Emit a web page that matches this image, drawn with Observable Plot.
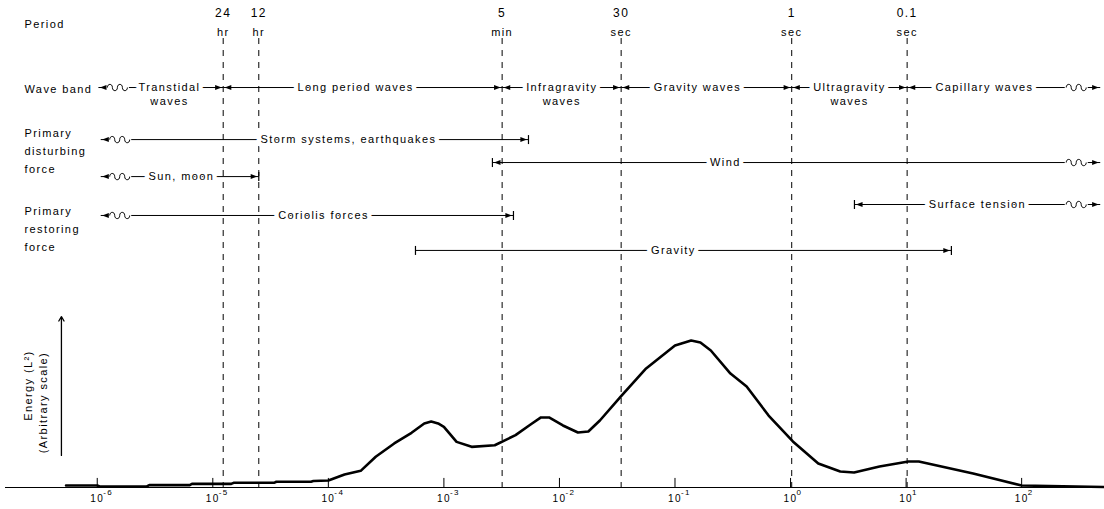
<!DOCTYPE html>
<html><head><meta charset="utf-8">
<script src="https://cdn.jsdelivr.net/npm/d3@7"></script>
<script src="https://cdn.jsdelivr.net/npm/@observablehq/plot@0.6"></script>
<style>
html,body{margin:0;padding:0;background:#fff;}
#chart svg text{letter-spacing:1.4px;}
#chart svg g[aria-label="tick-base"] text,
#chart svg g[aria-label="tick-exp"] text,
#chart svg g[aria-label="period-num"] text{letter-spacing:0;}
</style></head><body><div id="chart"></div>
<script>
// ---------- DATA ----------
// Energy spectrum: log10(frequency, Hz) and energy (arbitrary units)
const curveLogFreq = [-6.27,-6.0,-5.98,-5.57,-5.55,-5.2,-5.18,-4.84,-4.82,-4.47,-4.45,-4.15,-4.13,-4.0,-3.86,-3.72,-3.59,-3.43,-3.28,-3.17,-3.11,-3.05,-3.0,-2.89,-2.76,-2.56,-2.38,-2.25,-2.16,-2.09,-1.97,-1.84,-1.75,-1.65,-1.47,-1.25,-1.0,-0.86,-0.78,-0.69,-0.52,-0.38,-0.19,0.02,0.24,0.43,0.55,0.77,1.02,1.11,1.58,2.0,2.72];
const curveEnergy  = [1.4,1.4,0.7,0.7,1.6,1.6,2.5,2.5,3.2,3.2,3.9,3.9,4.4,4.8,8.9,11.4,21.0,30.1,37.4,43.8,45.1,43.8,41.5,31.2,27.8,28.9,35.8,43.1,47.9,47.9,42.4,37.6,38.3,45.8,62.2,81.4,97.1,100.5,99.1,93.7,77.9,69.1,49.2,31.5,16.4,10.9,10.3,14.4,17.8,17.8,9.6,1.4,0.3];

// Period markers (dashed lines), log10 frequency
const periodNumbers = ["24","12","5","30","1","0.1"];
const periodUnits   = ["hr","hr","min","sec","sec","sec"];
const periodLogFreq = [-4.91,-4.602,-2.496,-1.466,0.01,1.009];

// Axis ticks
const tickExps      = [-6,-5,-4,-3,-2,-1,0,1,2];
const tickBase      = ["10","10","10","10","10","10","10","10","10"];
const tickExpLabels = ["-6","-5","-4","-3","-2","-1","0","1","2"];

// Row titles (left side)
const rowTitles = ["Period","Wave band","Primary\ndisturbing\nforce","Primary\nrestoring\nforce"];

// Bands (ranges in log10 Hz)
const P = periodLogFreq;
const bandRow   = ["wave","wave","wave","wave","wave","wave","storm","wind","sun","coriolis","surface","gravity"];
const bandLabel = ["Transtidal\nwaves","Long period waves","Infragravity\nwaves","Gravity waves","Ultragravity\nwaves","Capillary waves","Storm systems, earthquakes","Wind","Sun, moon","Coriolis forces","Surface tension","Gravity"];
const bandFrom  = [-5.99, P[0], P[2], P[3], P[4], P[5], -5.97, -2.58, -5.97, -5.97, 0.553, -3.246];
const bandTo    = [P[0], P[2], P[3], P[4], P[5], 2.68, -2.268, 2.68, P[1], -2.398, 2.68, 1.392];
const bandFromCap = ["wave","arrow","arrow","arrow","arrow","arrow","wave","tickArrow","wave","wave","tickArrow","tick"];
const bandToCap   = ["arrow","arrow","arrow","arrow","arrow","wave","arrowTick","wave","arrowTick","arrowTick","wave","arrowTick"];
const bandLabelAt = [-5.375,-3.765,-1.98,-0.806,0.51,1.678,-3.826,-0.564,-5.271,-4.042,1.617,-1.014];

// ---------- LAYOUT (y levels in the plot's y units) ----------
const layout = {
  periodNum: 324.1, periodUnit: 311.1, dashTop: 307,
  titles: [318.0, 273.5, 231.1, 177.8],
  rows: {wave: 273.5, storm: 237.9, wind: 222.2, sun: 212.6, surface: 193.5, coriolis: 186.0, gravity: 162.1},
  tickLen: 6.2,
  energyArrowLogX: -6.31, energyArrowY: [21.9, 116.9],
  energyLabelY: [69.7, 58.1]
};

// ---------- BUILD ----------
const f = v => 10 ** v;
const curve = curveLogFreq.map((lf, i) => ({x: f(lf), y: curveEnergy[i]}));
const bands = bandLabel.map((label, i) => {
  const [first, second] = label.split("\n");
  return {first, second, y: layout.rows[bandRow[i]], x1: f(bandFrom[i]), x2: f(bandTo[i]),
          fromCap: bandFromCap[i], toCap: bandToCap[i], at: f(bandLabelAt[i])};
});
const leftHeads = [], rightHeads = [], ticks = [], leftWaves = [], rightWaves = [];
for (const b of bands) {
  const fc = b.fromCap, tc = b.toCap;
  if (fc !== "tick") leftHeads.push({x: b.x1, y: b.y});
  if (fc === "tick" || fc === "tickArrow") ticks.push({x: b.x1, y: b.y});
  if (fc === "wave") leftWaves.push({x: b.x1, y: b.y});
  if (tc !== "tick") rightHeads.push({x: b.x2, y: b.y});
  if (tc === "tick" || tc === "arrowTick") ticks.push({x: b.x2, y: b.y});
  if (tc === "wave") rightWaves.push({x: b.x2, y: b.y});
}
// glyph shapes (marker symbols)
const triLeft = {draw(ctx, size){const r = Math.sqrt(size/Math.PI); ctx.moveTo(1.5,0); ctx.lineTo(1.5+2*r,-0.75*r); ctx.lineTo(1.5+2*r,0.75*r); ctx.closePath();}};
const triRight = {draw(ctx, size){const r = Math.sqrt(size/Math.PI); ctx.moveTo(-1.5,0); ctx.lineTo(-1.5-2*r,-0.75*r); ctx.lineTo(-1.5-2*r,0.75*r); ctx.closePath();}};
const vbar = {draw(ctx, size){const r = Math.sqrt(size/Math.PI); ctx.moveTo(0,-r); ctx.lineTo(0,r);}};
const squiggle = {draw(ctx){
  const w = 5, a = 4.2, x0 = -10;
  ctx.moveTo(x0, 0);
  for (let k = 0; k < 4; k++) {
    const s = k % 2 ? 1 : -1, xs = x0 + k * w;
    ctx.bezierCurveTo(xs, s * a, xs + w, s * a, xs + w, 0);
  }
}};
const maskBox = {draw(ctx){ctx.rect(-11.5, -5, 23, 10);}};

const secondLines = bands.filter(b => b.second);
const font = "'Liberation Sans', Arial, sans-serif";

const chart = Plot.plot({
  width: 1104, height: 509,
  marginLeft: 5, marginRight: 0, marginTop: 0, marginBottom: 22,
  x: {type: "log", domain: [f(-6.794), f(2.717)], axis: null},
  y: {domain: [0, 333], axis: null},
  style: {fontFamily: font, fontSize: "11px", background: "white", color: "black", overflow: "visible"},
  marks: [
    // dashed period lines
    Plot.ruleX(periodLogFreq, {x: f, y1: layout.dashTop, y2: 0, stroke: "black", strokeWidth: 1, strokeDasharray: "6,6"}),
    // x axis
    Plot.ruleY([0], {stroke: "black", strokeWidth: 1}),
    Plot.ruleX(tickExps, {x: f, y1: 0, y2: layout.tickLen, stroke: "black"}),
    Plot.text(tickExps, {x: f, y: 0, text: (d, i) => tickBase[i], dy: 11, fontSize: 10, ariaLabel: "tick-base"}),
    Plot.text(tickExps, {x: f, y: 0, text: (d, i) => tickExpLabels[i], dy: 5, dx: 6, textAnchor: "start", fontSize: 8, ariaLabel: "tick-exp"}),
    // energy curve
    Plot.line(curve, {x: "x", y: "y", stroke: "black", strokeWidth: 2.6, strokeLinejoin: "round", strokeLinecap: "round"}),
    // energy axis arrow and labels
    Plot.arrow([0], {x1: () => f(layout.energyArrowLogX), x2: () => f(layout.energyArrowLogX), y1: layout.energyArrowY[0], y2: layout.energyArrowY[1], stroke: "black", strokeWidth: 1.3, headLength: 6}),
    Plot.text(["Energy (L²)"], {frameAnchor: "left", dx: 23, y: layout.energyLabelY[0], text: d => d, rotate: -90, textAnchor: "middle", fontSize: 11}),
    Plot.text(["(Arbitrary scale)"], {frameAnchor: "left", dx: 38, y: layout.energyLabelY[1], text: d => d, rotate: -90, textAnchor: "middle", fontSize: 11}),
    // period labels
    Plot.text(periodLogFreq, {x: f, y: layout.periodNum, text: (d, i) => periodNumbers[i], fontSize: 12, ariaLabel: "period-num"}),
    Plot.text(periodLogFreq, {x: f, y: layout.periodUnit, text: (d, i) => periodUnits[i], fontSize: 11}),
    // row titles
    Plot.text(rowTitles, {frameAnchor: "left", dx: 19, y: (d, i) => layout.titles[i], text: d => d, textAnchor: "start", lineHeight: 1.62, fontSize: 11}),
    // band lines
    Plot.link(bands, {x1: "x1", x2: "x2", y1: "y", y2: "y", stroke: "black", strokeWidth: 1}),
    // label halos then labels
    Plot.text(bands, {x: "at", y: "y", text: "first", fill: "white", stroke: "white", strokeWidth: 9, fontSize: 11}),
    Plot.text(bands, {x: "at", y: "y", text: "first", fill: "black", fontSize: 11}),
    Plot.text(secondLines, {x: "at", y: "y", text: "second", dy: 14, fill: "black", fontSize: 11}),
    // wavy open ends (mask + squiggle)
    Plot.dot(leftWaves, {x: "x", y: "y", symbol: maskBox, r: 1, dx: 19, fill: "white", stroke: "none"}),
    Plot.dot(rightWaves, {x: "x", y: "y", symbol: maskBox, r: 1, dx: -24, fill: "white", stroke: "none"}),
    Plot.dot(leftWaves, {x: "x", y: "y", symbol: squiggle, r: 1, dx: 19, fill: "none", stroke: "black", strokeWidth: 1}),
    Plot.dot(rightWaves, {x: "x", y: "y", symbol: squiggle, r: 1, dx: -24, fill: "none", stroke: "black", strokeWidth: 1}),
    // arrowheads and end ticks
    Plot.dot(leftHeads, {x: "x", y: "y", symbol: triLeft, r: 3.3, fill: "black", stroke: "none"}),
    Plot.dot(rightHeads, {x: "x", y: "y", symbol: triRight, r: 3.3, fill: "black", stroke: "none"}),
    Plot.dot(ticks, {x: "x", y: "y", symbol: vbar, r: 4.5, fill: "none", stroke: "black", strokeWidth: 1.2})
  ]
});
document.getElementById("chart").appendChild(chart);
</script>
</body></html>
